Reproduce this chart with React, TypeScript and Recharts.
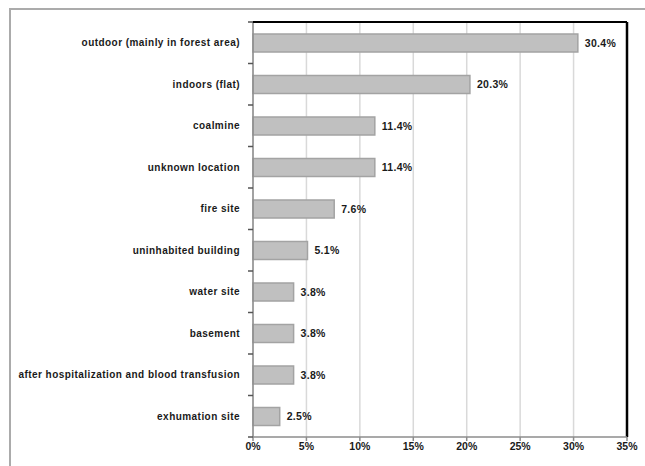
import React from "react";
import { BarChart, Bar, XAxis, YAxis, CartesianGrid, LabelList, ReferenceLine } from "recharts";

const categories = [
  "outdoor (mainly in forest area)",
  "indoors (flat)",
  "coalmine",
  "unknown location",
  "fire site",
  "uninhabited building",
  "water site",
  "basement",
  "after hospitalization and blood transfusion",
  "exhumation site",
];
const shares = [30.4, 20.3, 11.4, 11.4, 7.6, 5.1, 3.8, 3.8, 3.8, 2.5];
const xTicks = [0, 5, 10, 15, 20, 25, 30, 35];

const data = categories.map((name, i) => ({ name, value: shares[i] }));

const W = 645;
const H = 466;
const TOP = 22;
const RIGHT = 18;
const AXIS_W = 253;
const X_AXIS_H = 29;
const BAND = (H - TOP - X_AXIS_H) / categories.length;
const FONT = "'Liberation Sans', Arial, sans-serif";

function CategoryTick(props: any) {
  const { y, payload, index } = props;
  const ax = AXIS_W;
  return (
    <g>
      <line x1={ax - 5} x2={ax} y1={y - BAND / 2} y2={y - BAND / 2} stroke="#555" strokeWidth={1.5} />
      {index === categories.length - 1 && (
        <line x1={ax - 5} x2={ax} y1={y + BAND / 2} y2={y + BAND / 2} stroke="#555" strokeWidth={1.5} />
      )}
      <text
        x={ax - 13}
        y={y}
        dy={3.5}
        textAnchor="end"
        fontFamily={FONT}
        fontSize={10}
        fontWeight="bold"
        letterSpacing={0.45}
        fill="#1a1a1a"
      >
        {payload.value}
      </text>
    </g>
  );
}

export default function App() {
  return (
    <div style={{ position: "absolute", left: 0, top: 0, width: W, height: H, overflow: "hidden", background: "#fff" }}>
      <div
        style={{
          position: "absolute",
          left: 9,
          top: 8,
          width: 700,
          height: 500,
          border: "2px solid #ababab",
          boxSizing: "border-box",
        }}
      />
      <div style={{ position: "absolute", left: 0, top: 0 }}>
        <BarChart width={W} height={H} data={data} layout="vertical" margin={{ top: TOP, right: RIGHT, bottom: 0, left: 0 }}>
          <CartesianGrid horizontal={false} stroke="#d9d9d9" strokeWidth={1.5} />
          <XAxis
            type="number"
            domain={[0, 35]}
            ticks={xTicks}
            tickFormatter={(v: number) => `${v}%`}
            height={X_AXIS_H}
            axisLine={{ stroke: "#8c8c8c", strokeWidth: 1.5 }}
            tickLine={{ stroke: "#8c8c8c", strokeWidth: 1.5 }}
            tickSize={4}
            tick={{ fill: "#1a1a1a", fontFamily: FONT, fontSize: 10.5, fontWeight: "bold" }}
            interval={0}
          />
          <YAxis
            type="category"
            dataKey="name"
            width={AXIS_W}
            axisLine={{ stroke: "#8c8c8c", strokeWidth: 1.5 }}
            tickLine={false}
            tick={<CategoryTick />}
            interval={0}
          />
          <ReferenceLine x={35} stroke="#000" strokeWidth={2.5} />
          <Bar dataKey="value" barSize={18} fill="#c0c0c0" stroke="#a3a3a3" strokeWidth={1.5} isAnimationActive={false}>
            <LabelList
              dataKey="value"
              position="right"
              offset={7}
              formatter={(v: any) => `${Number(v).toFixed(1)}%`}
              style={{ fill: "#1a1a1a", fontFamily: FONT, fontSize: 10.5, fontWeight: "bold", letterSpacing: 0.3 }}
            />
          </Bar>
        </BarChart>
      </div>
      {/* plot-area top border */}
      <div
        style={{
          position: "absolute",
          left: AXIS_W,
          top: TOP - 1,
          width: W - RIGHT - AXIS_W,
          height: 1.5,
          background: "#000",
        }}
      />
    </div>
  );
}
